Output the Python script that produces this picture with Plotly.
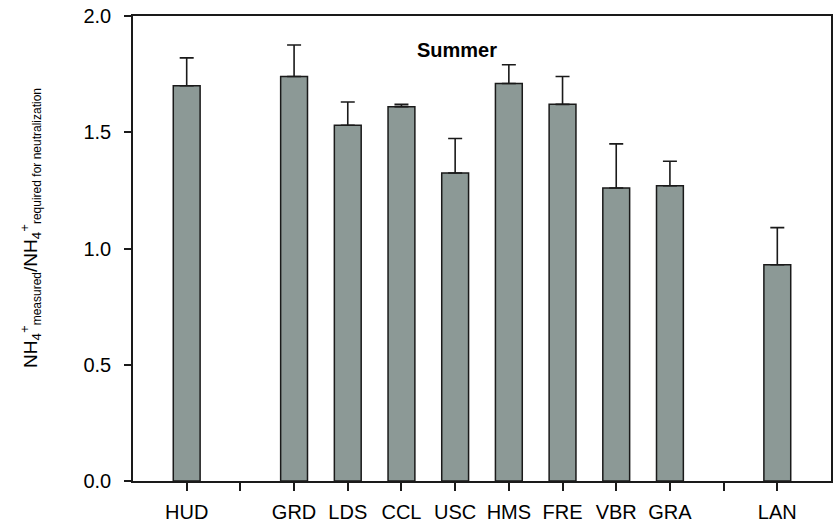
import plotly.graph_objects as go

# Site labels along the x axis; blank entries are empty slots between site groups
sites = ["HUD", "", "GRD", "LDS", "CCL", "USC", "HMS", "FRE", "VBR", "GRA", " ", "LAN"]
# NH4+ measured / NH4+ required for neutralization (summer means)
ratio = [1.70, None, 1.74, 1.53, 1.61, 1.325, 1.71, 1.62, 1.26, 1.27, None, 0.93]
# Upper standard deviation
ratio_sd = [0.12, None, 0.135, 0.10, 0.01, 0.148, 0.08, 0.12, 0.19, 0.105, None, 0.16]
zeros = [0 if v is not None else None for v in ratio]

y_ticks = [0.0, 0.5, 1.0, 1.5, 2.0]

FONT = "Liberation Sans, Arial, sans-serif"
LINE = "#1a1a1a"
SUB = "<span style='font-size:12px'>{}</span>"

fig = go.Figure()
fig.add_trace(go.Bar(
    x=sites,
    y=ratio,
    width=0.5,
    marker=dict(color="#8c9996", line=dict(color=LINE, width=1.5)),
    error_y=dict(type="data", array=ratio_sd, arrayminus=zeros, symmetric=False,
                 color=LINE, thickness=1.6, width=7),
    showlegend=False,
))

fig.add_annotation(
    text="<b>Summer</b>", x=0.464, y=0.955, xref="paper", yref="paper",
    showarrow=False, font=dict(family=FONT, size=20, color="black"),
)

# Rotated y-axis title with sub/superscripts
fig.add_annotation(
    text="NH<sub>4</sub><sup>+</sup><sub>" + SUB.format("measured") + "</sub>"
         "/NH<sub>4</sub><sup>+</sup><sub>" + SUB.format("required for neutralization") + "</sub>",
    x=-0.147, y=0.545, xref="paper", yref="paper", xanchor="center", yanchor="middle",
    textangle=-90, showarrow=False, font=dict(family=FONT, size=19, color="black"),
)

fig.update_layout(
    width=838, height=528,
    margin=dict(l=133, r=5, t=16, b=44),
    paper_bgcolor="white", plot_bgcolor="white",
    font=dict(family=FONT, color="black", size=20),
    xaxis=dict(
        type="category", categoryorder="array", categoryarray=sites,
        range=[-1, 12], showline=True, linecolor=LINE, linewidth=1.5, mirror=True,
        ticks="outside", ticklen=8, tickwidth=1.5, tickcolor=LINE, ticklabelstandoff=4,
        tickfont=dict(family=FONT, size=20), showgrid=False, zeroline=False,
    ),
    yaxis=dict(
        range=[0, 2.0], tickvals=y_ticks, tickformat=".1f",
        showline=True, linecolor=LINE, linewidth=1.5, mirror=True,
        ticks="outside", ticklen=7, tickwidth=1.5, tickcolor=LINE, ticklabelstandoff=9,
        tickfont=dict(family=FONT, size=20), showgrid=False, zeroline=False,
    ),
)

fig.write_html("out.html")
